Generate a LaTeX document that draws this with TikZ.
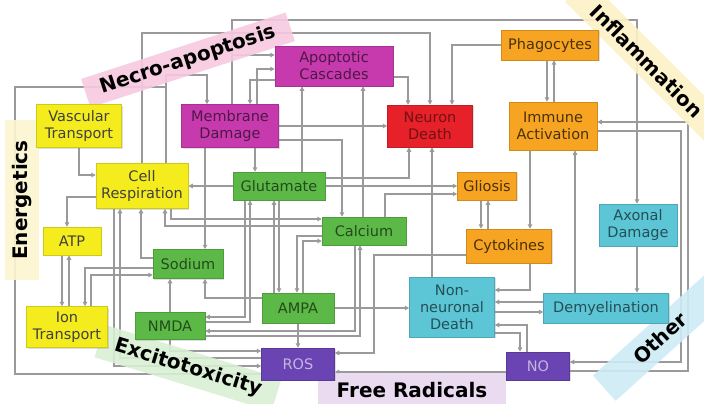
\documentclass[tikz,border=0pt]{standalone}
\usepackage{fontspec}
\setsansfont{DejaVu Sans}
\usetikzlibrary{arrows.meta,shadows}

\definecolor{cyel}{HTML}{F4EC1C}
\definecolor{cmag}{HTML}{C63AAE}
\definecolor{cred}{HTML}{E62129}
\definecolor{corg}{HTML}{F6A422}
\definecolor{cgrn}{HTML}{5CB947}
\definecolor{ccyn}{HTML}{5CC5D6}
\definecolor{cpur}{HTML}{6A44B2}
\definecolor{clink}{HTML}{9A9A9A}
\definecolor{bnecro}{HTML}{F7C9E0}
\definecolor{binflam}{HTML}{FCF1C6}
\definecolor{benerg}{HTML}{FCF5CF}
\definecolor{bexcit}{HTML}{D9EFD4}
\definecolor{bfree}{HTML}{E8D7F0}
\definecolor{bother}{HTML}{CDEBF5}

\newcommand{\boxfont}{\sffamily\fontsize{14.5}{17}\selectfont}
\newcommand{\bandfont}{\sffamily\bfseries\fontsize{20}{22}\selectfont}

\pgfdeclarelayer{links}
\pgfdeclarelayer{bands}
\pgfsetlayers{links,bands,main}

\tikzset{
  box/.style={draw=#1!85!black, fill=#1, line width=0.5pt, inner sep=0pt,
    align=center, font=\boxfont,
    drop shadow={opacity=0.25, shadow xshift=1.2pt, shadow yshift=-1.2pt}},
  energy/.style={box=cyel, text=black!75},
  necrotic/.style={box=cmag, text=black!60!cmag},
  death/.style={box=cred, text=black!50!cred},
  inflamed/.style={box=corg, text=black!70!corg},
  excito/.style={box=cgrn, text=black!60!cgrn},
  other/.style={box=ccyn, text=black!60!ccyn},
  radical/.style={box=cpur, text=white!60!cpur},
  line/.style={draw=clink, line width=1.1pt},
  link/.style={line, -{Triangle[length=4.5pt,width=4.5pt]}},
  band/.style={inner sep=0pt, font=\bandfont, text=black, fill opacity=0.9, text opacity=1},
}

\begin{document}
\begin{tikzpicture}[x=1pt,y=-1pt]
  \useasboundingbox (0,0) rectangle (704,404);
  \clip (0,0) rectangle (704,404);

  % Energetics.
  \node[energy, minimum width=85, minimum height=43] (vt) at (79,126) {Vascular\\Transport};
  \node[energy, minimum width=92, minimum height=45] (cr) at (142,186) {Cell\\Respiration};
  \node[energy, minimum width=58, minimum height=28] (atp) at (72,241) {ATP};
  \node[energy, minimum width=81, minimum height=41] (ion) at (67,327) {Ion\\Transport};
  % Necro-apoptosis.
  \node[necrotic, minimum width=97, minimum height=43] (md) at (230,126) {Membrane\\Damage};
  \node[necrotic, minimum width=118, minimum height=40] (ac) at (334,66) {Apoptotic\\Cascades};
  \node[death, minimum width=85, minimum height=42] (nd) at (430,126) {Neuron\\Death};
  % Inflammation.
  \node[inflamed, minimum width=97, minimum height=30] (phag) at (550,45) {Phagocytes};
  \node[inflamed, minimum width=88, minimum height=48] (imm) at (553,126) {Immune\\Activation};
  \node[inflamed, minimum width=59, minimum height=28] (gli) at (487,186) {Gliosis};
  \node[inflamed, minimum width=85, minimum height=34] (cyt) at (509,246) {Cytokines};
  % Excitotoxicity.
  \node[excito, minimum width=92, minimum height=28] (glu) at (279,186) {Glutamate};
  \node[excito, minimum width=84, minimum height=28] (ca) at (364,231) {Calcium};
  \node[excito, minimum width=70, minimum height=29] (na) at (188,264) {Sodium};
  \node[excito, minimum width=72, minimum height=30] (ampa) at (298,308) {AMPA};
  \node[excito, minimum width=70, minimum height=27] (nmda) at (170,326) {NMDA};
  % Other.
  \node[other, minimum width=78, minimum height=42] (axd) at (638,225) {Axonal\\Damage};
  \node[other, minimum width=85, minimum height=60] (nnd) at (452,307) {Non-\\neuronal\\Death};
  \node[other, minimum width=125, minimum height=30] (dem) at (606,308) {Demyelination};
  % Free radicals.
  \node[radical, minimum width=73, minimum height=32] (ros) at (298,364) {ROS};
  \node[radical, minimum width=63, minimum height=28] (no) at (538,366) {NO};

  \coordinate (mdup) at (232,55);
  \coordinate (loop) at (166,87);

  \begin{pgfonlayer}{links}
  % energetics links
  \draw[link] (79,0 |- vt.south) |- (cr.west |- 0,175);
  \draw[link] (cr.west |- 0,197) -| (67,0 |- atp.north);
  \draw[link] (62,0 |- atp.south) -- (62,0 |- ion.north);
  \draw[link] (69,0 |- ion.north) -- (69,0 |- atp.south);
  \draw[link] (na.west |- 0,268) -| (85,0 |- ion.north);
  \draw[link] (91,0 |- ion.north) |- (na.west |- 0,275);
  \draw[link] (na.west |- 0,258) -| (141,0 |- cr.south);
  \draw[link] (glu.west) -- (cr.east |- glu.west);
  \draw[link] (ca.west |- 0,226) -| (165,0 |- cr.south);
  \draw[link] (171,0 |- cr.south) |- (ca.west |- 0,219);
  \draw[link] (114,0 |- cr.south) |- (ros.west |- 0,366);
  \draw[link] (ros.west |- 0,358) -| (120,0 |- cr.south);
  \draw[link] (142,0 |- cr.north) |- (430,33) -- (430,0 |- nd.north);
  % loop to membrane damage
  \draw[line] (ros.west |- 0,374) -| (15,87) -- (loop);
  \draw[line] (166,0 |- cr.north) -- (loop);
  \draw[link] (loop) |- (207,75) -- (207,0 |- md.north);
  % necro-apoptosis links
  \draw[link] (255,0 |- md.south) -- (255,0 |- glu.north);
  \draw[link] (205,0 |- md.south) -- (205,0 |- na.north);
  \draw[link] (md.east |- 0,140) -| (342,0 |- ca.north);
  \draw[link] (md.east |- 0,126) -- (nd.west |- 0,126);
  \draw[link] (ac.east |- 0,77) -| (408,0 |- nd.north);
  \draw[link] (257,0 |- md.north) |- (ac.west |- 0,69);
  \draw[link] (ac.west |- 0,80) -| (250,0 |- md.north);
  \draw[link] (232,0 |- md.north) |- (637,20) -- (637,0 |- axd.north);
  \draw[link] (mdup) -- (ac.west |- mdup);
  \draw[link] (302,0 |- glu.north) -- (302,0 |- ac.south);
  \draw[link] (363,0 |- ca.north) -- (363,0 |- ac.south);
  % inflammation links
  \draw[link] (phag.west) -| (452,0 |- nd.north);
  \draw[link] (547,0 |- phag.south) -- (547,0 |- imm.north);
  \draw[link] (554,0 |- imm.north) -- (554,0 |- phag.south);
  \draw[link] (530,0 |- imm.south) -- (530,0 |- cyt.north);
  \draw[link] (575,0 |- dem.north) -- (575,0 |- imm.south);
  \draw[link] (imm.east |- 0,131) -| (681,362) -- (no.east |- 0,362);
  \draw[link] (no.east |- 0,371) -| (688,122) -- (imm.east |- 0,122);
  \draw[link] (481,0 |- gli.south) -- (481,0 |- cyt.north);
  \draw[link] (488,0 |- cyt.north) -- (488,0 |- gli.south);
  \draw[link] (glu.east |- 0,186) -- (gli.west |- 0,186);
  \draw[link] (glu.east |- 0,178) -| (409,0 |- nd.south);
  \draw[link] (385,0 |- ca.north) |- (gli.west |- 0,194);
  \draw[link] (530,0 |- cyt.south) |- (nnd.east |- 0,290);
  \draw[link] (cyt.west |- 0,255) -| (374,353) -- (ros.east |- 0,353);
  % other links
  \draw[link] (432,0 |- nnd.north) -- (432,0 |- nd.south);
  \draw[link] (dem.west |- 0,302) -- (nnd.east |- 0,302);
  \draw[link] (nnd.east |- 0,312) -- (dem.west |- 0,312);
  \draw[link] (nnd.east |- 0,333) -| (520,0 |- no.north);
  \draw[link] (527,0 |- no.north) |- (nnd.east |- 0,325);
  \draw[link] (637,0 |- axd.south) -- (637,0 |- dem.north);
  \draw[link] (no.west |- 0,372) -- (ros.east |- 0,372);
  % excitotoxicity links
  \draw[link] (ampa.east) -- (nnd.west |- ampa.east);
  \draw[link] (298,0 |- ampa.south) -- (298,0 |- ros.north);
  \draw[link] (279,0 |- glu.south) -- (279,0 |- ampa.north);
  \draw[link] (274,0 |- ampa.north) -- (274,0 |- glu.south);
  \draw[link] (245,0 |- glu.south) |- (nmda.east |- 0,317);
  \draw[link] (nmda.east |- 0,322) -| (250,0 |- glu.south);
  \draw[link] (303,0 |- ampa.north) |- (ca.west |- 0,241);
  \draw[link] (ca.west |- 0,236) -| (297,0 |- ampa.north);
  \draw[link] (ampa.west |- 0,298) -| (205,0 |- na.south);
  \draw[link] (170,0 |- nmda.north) -- (170,0 |- na.south);
  \draw[link] (355,0 |- ca.south) |- (nmda.east |- 0,331);
  \draw[link] (nmda.east |- 0,336) -| (360,0 |- ca.south);
  \draw[link] (170,0 |- nmda.south) |- (ros.west |- 0,351);
  \end{pgfonlayer}

  % Bands.
  \begin{pgfonlayer}{bands}
  \node[band, fill=bnecro, rotate=18, minimum width=215, minimum height=30] (necro) at (188,60) {Necro-apoptosis};
  \node[band, fill=binflam, rotate=-45, minimum width=200, minimum height=32] (inflam) at (647,61) {Inflammation};
  \node[band, fill=benerg, rotate=90, minimum width=160, minimum height=34] (energ) at (22,200) {Energetics};
  \node[band, fill=bexcit, rotate=-17, minimum width=185, minimum height=34] (excit) at (188,368) {Excitotoxicity};
  \node[band, fill=bfree, minimum width=188, minimum height=34] (free) at (412,390) {Free Radicals};
  \node[band, fill=bother, rotate=42, minimum width=150, minimum height=34] (oth) at (660,338) {Other};
  \end{pgfonlayer}
\end{tikzpicture}
\end{document}
